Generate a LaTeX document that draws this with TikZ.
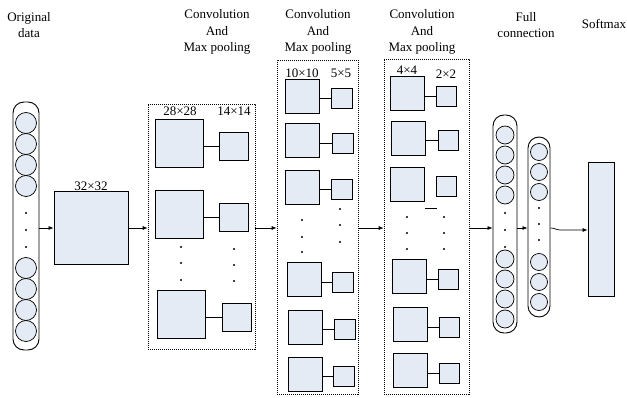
\documentclass[tikz,border=0pt]{standalone}
\usepackage{fontspec}
\setmainfont{Liberation Serif}
\usetikzlibrary{arrows.meta}
\definecolor{cellfill}{RGB}{229,235,245}
\tikzset{
  cell/.style={circle,draw,fill=cellfill,inner sep=0pt,line width=0.7pt},
  capsule/.style={draw,rounded corners=11pt,line width=0.9pt,inner sep=0pt},
  fmap/.style={draw,fill=cellfill,inner sep=0pt,line width=0.8pt},
  poolbox/.style={draw,dash pattern=on 1.2pt off 0.8pt,line width=0.7pt,inner sep=0pt},
  arr/.style={-{Latex[length=5pt,width=4pt]},line width=0.7pt},
  link/.style={line width=0.8pt},
  lbl/.style={font=\fontsize{13}{16.5}\selectfont,align=center,inner sep=0pt},
}

\begin{document}
\begin{tikzpicture}[x=1pt,y=-1pt]
    \useasboundingbox (0,0) rectangle (627,398);
    \coordinate (m) at (0,228);
    \coordinate (m2) at (0,230);

    % draw titles
    \node[lbl] (tin) at (29,25) {Original\\data};
    \node[lbl] (tc1) at (217,32) {Convolution\\And\\Max pooling};
    \node[lbl] (tc2) at (318,32) {Convolution\\And\\Max pooling};
    \node[lbl] (tc3) at (422,32) {Convolution\\And\\Max pooling};
    \node[lbl] (tfc) at (526,25) {Full\\connection};
    \node[lbl] (tsm) at (604,24) {Softmax};

    % draw input column
    \node[capsule,minimum width=26pt,minimum height=248pt] (in) at (26,226) {};
    \foreach \y [count=\i] in {123,144,165,186,268,289,310,331}
    \node[cell,minimum size=21pt] (in\i) at (26,\y) {};
    \foreach \y in {213,230,247}
    \fill (26,\y) circle (1.2pt);

    % draw 32x32 map
    \node[fmap,minimum width=74pt,minimum height=73pt] (map) at (91,227.5) {};
    \node[lbl,anchor=south] (l32) at (map.north) {32×32};

    % draw first conv/pool box
    \node[poolbox,minimum width=107pt,minimum height=245pt] (pool1) at (201.5,226.5) {};
    \foreach \i/\bx/\by/\sx/\sy in {1/179/143/233.5/146, 2/179/214/233.5/217.5, 3/181.5/314/236.5/317.5}{
        \node[fmap,minimum size=48pt] (p1b\i) at (\bx,\by) {};
        \node[fmap,minimum width=29pt,minimum height=28pt] (p1s\i) at (\sx,\sy) {};
        \draw[link] (p1s\i.west -| p1b\i.east) -- (p1s\i.west);
    }
    \foreach \y in {247,263,280} \fill (181,\y) circle (1.2pt);
    \foreach \y in {249,265,281} \fill (234,\y) circle (1.2pt);
    \node[lbl] (l28) at (180,111) {28×28};
    \node[lbl] (l14) at (234,111) {14×14};

    % draw second conv/pool box
    \node[poolbox,minimum width=81pt,minimum height=334pt] (pool2) at (317.5,227) {};
    \foreach \i/\bx/\by/\sx/\sy in {1/302/96/341.5/98, 2/302.5/140.5/342.5/143.5, 3/302/187/341.5/189.5,
                                    4/304/279.5/342.5/282, 5/305/327/344.5/329.5, 6/305/374/344/376.5}{
        \node[fmap,minimum size=34pt] (p2b\i) at (\bx,\by) {};
        \node[fmap,minimum width=21pt,minimum height=20pt] (p2s\i) at (\sx,\sy) {};
        \draw[link] (p2s\i.west -| p2b\i.east) -- (p2s\i.west);
    }
    \foreach \y in {220,237,252} \fill (302,\y) circle (1.2pt);
    \foreach \y in {209,225,242} \fill (340,\y) circle (1.2pt);
    \node[lbl] (l10) at (302,73) {10×10};
    \node[lbl] (l5) at (341,73) {5×5};

    % draw third conv/pool box
    \node[poolbox,minimum width=85pt,minimum height=335pt] (pool3) at (426.5,226.5) {};
    \foreach \i/\bx/\by/\sx/\sy in {1/407.5/93.5/446/96, 2/408/138/448/140.5, 3/407.5/184/446/186.5,
                                    4/409/276/448/279, 5/410/324/449.5/327, 6/410/370.5/449.5/373}{
        \node[fmap,minimum size=34pt] (p3b\i) at (\bx,\by) {};
        \node[fmap,minimum size=20pt] (p3s\i) at (\sx,\sy) {};
    }
    \foreach \i in {1,2,4,5,6}
    \draw[link] (p3s\i.west -| p3b\i.east) -- (p3s\i.west);
    \draw[link] (425,208) -- (437,208);
    \foreach \y in {217,233,249} \fill (407,\y) circle (1.2pt);
    \foreach \y in {217,233,249} \fill (444,\y) circle (1.2pt);
    \node[lbl] (l4) at (407,70) {4×4};
    \node[lbl] (l2) at (446,74) {2×2};

    % draw full connection columns
    \node[capsule,minimum width=24pt,minimum height=218pt] (fc1) at (505,224) {};
    \foreach \y [count=\i] in {135,155,175,195,259,279,299,319}
    \node[cell,minimum size=18pt] (fa\i) at (505,\y) {};
    \foreach \y in {213,230,247}
    \fill (505,\y) circle (1.2pt);

    \node[capsule,minimum width=22pt,minimum height=180pt] (fc2) at (539,227) {};
    \foreach \y [count=\i] in {152,172,192,262,282,302}
    \node[cell,minimum size=17pt] (fb\i) at (539,\y) {};
    \foreach \y in {208,224,240}
    \fill (539,\y) circle (1.2pt);

    % draw softmax
    \node[fmap,minimum width=26pt,minimum height=134pt] (soft) at (601,229) {};

    % draw arrows
    \draw[arr] (in.east |- m) -- (map.west |- m);
    \draw[arr] (map.east |- m) -- (pool1.west |- m);
    \draw[arr] (pool1.east |- m) -- (pool2.west |- m);
    \draw[arr] (pool2.east |- m) -- (pool3.west |- m);
    \draw[arr] (pool3.east |- m) -- (fc1.west |- m);
    \draw[arr] (fc1.east |- m) -- (fc2.west |- m);
    \draw[arr] (fc2.east |- m) .. controls +(5,0) and +(-5,0) .. ++(10,2) -- (soft.west |- m2);
\end{tikzpicture}
\end{document}
